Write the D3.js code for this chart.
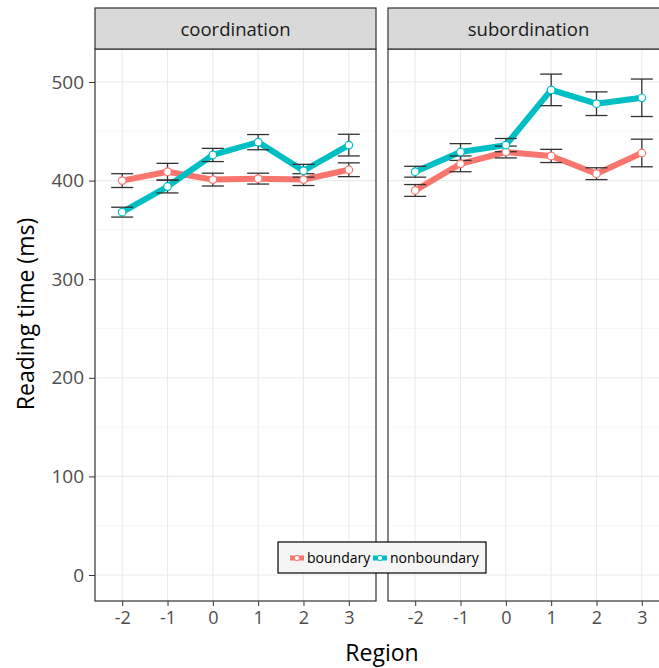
<!DOCTYPE html>
<html>
<head>
<meta charset="utf-8">
<script src="https://cdn.jsdelivr.net/npm/d3@7"></script>
<style>
body { margin: 0; background: #fff; }
text { font-family: "Open Sans", "Noto Sans", sans-serif; }
</style>
</head>
<body>
<script>
// data
var panels = ["coordination", "subordination"];
var regions = [-2, -1, 0, 1, 2, 3];
var groups = ["boundary", "nonboundary"];
var colors = ["#F8766D", "#00BFC4"];

var coordBoundary = [400, 409, 401, 402, 401, 411];
var coordBoundaryErr = [7, 8.5, 6.5, 5.5, 6, 7];
var coordNonboundary = [368, 394, 426, 439, 410, 436];
var coordNonboundaryErr = [5, 6.5, 6.7, 7.7, 6.5, 11];

var subBoundary = [390, 417, 429, 425, 407, 428];
var subBoundaryErr = [6, 8, 6, 6.7, 6, 14];
var subNonboundary = [409, 429, 436, 492, 478, 484];
var subNonboundaryErr = [5.5, 8.5, 6.7, 16, 12, 19];

var yTicks = [0, 100, 200, 300, 400, 500];
var yMinor = [50, 150, 250, 350, 450];

var series = [
  [coordBoundary, coordBoundaryErr, coordNonboundary, coordNonboundaryErr],
  [subBoundary, subBoundaryErr, subNonboundary, subNonboundaryErr]
];

var W = 659, H = 668;
var svg = d3.select("body").append("svg").attr("width", W).attr("height", H);

var panelX = [95, 388], panelW = 281;
var stripTop = 8, panelTop = 49, panelBot = 601;

var y = d3.scaleLinear().domain([0, 500]).range([575, 82]);
var fmt = function(d) { return String(d); }; // plain hyphen like the original

panels.forEach(function(name, p) {
  var x0 = panelX[p];
  var x = d3.scaleLinear().domain([-2.6, 3.6]).range([x0, x0 + panelW]);
  var g = svg.append("g");

  // panel bg
  g.append("rect").attr("x", x0).attr("y", panelTop).attr("width", panelW)
    .attr("height", panelBot - panelTop).attr("fill", "#fff");

  // grid
  g.selectAll(".ymin").data(yMinor).enter().append("line")
    .attr("x1", x0).attr("x2", x0 + panelW)
    .attr("y1", function(d) { return y(d); }).attr("y2", function(d) { return y(d); })
    .attr("stroke", "#f2f2f2").attr("stroke-width", 0.6);
  g.selectAll(".ymaj").data(yTicks).enter().append("line")
    .attr("x1", x0).attr("x2", x0 + panelW)
    .attr("y1", function(d) { return y(d); }).attr("y2", function(d) { return y(d); })
    .attr("stroke", "#ebebeb").attr("stroke-width", 1.1);
  g.selectAll(".xmaj").data(regions).enter().append("line")
    .attr("x1", function(d) { return x(d); }).attr("x2", function(d) { return x(d); })
    .attr("y1", panelTop).attr("y2", panelBot)
    .attr("stroke", "#ebebeb").attr("stroke-width", 1.1);

  var s = series[p];
  var line = d3.line().x(function(d, i) { return x(regions[i]); }).y(function(d) { return y(d); });

  groups.forEach(function(grp, k) {
    g.append("path").datum(s[k * 2]).attr("d", line)
      .attr("fill", "none").attr("stroke", colors[k]).attr("stroke-width", 6)
      .attr("stroke-linejoin", "round");
  });

  groups.forEach(function(grp, k) {
    var vals = s[k * 2], errs = s[k * 2 + 1];
    var eb = g.append("g").attr("stroke", "#333").attr("stroke-width", 1.3);
    vals.forEach(function(v, i) {
      var cx = x(regions[i]);
      eb.append("line").attr("x1", cx).attr("x2", cx)
        .attr("y1", y(v - errs[i])).attr("y2", y(v + errs[i]));
      [v - errs[i], v + errs[i]].forEach(function(e) {
        eb.append("line").attr("x1", cx - 11).attr("x2", cx + 11)
          .attr("y1", y(e)).attr("y2", y(e));
      });
    });
  });

  groups.forEach(function(grp, k) {
    g.selectAll(".pt" + k).data(s[k * 2]).enter().append("circle")
      .attr("cx", function(d, i) { return x(regions[i]); })
      .attr("cy", function(d) { return y(d); })
      .attr("r", 3.8).attr("fill", "#fff").attr("stroke", colors[k]).attr("stroke-width", 1.2);
  });

  // border
  g.append("rect").attr("x", x0).attr("y", panelTop).attr("width", panelW)
    .attr("height", panelBot - panelTop).attr("fill", "none").attr("stroke", "#333").attr("stroke-width", 1.2);

  // strip
  g.append("rect").attr("x", x0).attr("y", stripTop).attr("width", panelW)
    .attr("height", panelTop - stripTop).attr("fill", "#d9d9d9").attr("stroke", "#333").attr("stroke-width", 1.2);
  g.append("text").attr("x", x0 + panelW / 2).attr("y", 35.5).attr("text-anchor", "middle")
    .attr("font-size", 18.5).attr("fill", "#1a1a1a").text(name);

  // x axis
  var xa = g.append("g").attr("transform", "translate(0," + panelBot + ")")
    .call(d3.axisBottom(x).tickValues(regions).tickSize(5).tickPadding(5).tickFormat(fmt));
  xa.select(".domain").remove();
  xa.selectAll("line").attr("stroke", "#333");
  xa.selectAll("text").attr("font-size", 18).attr("fill", "#4d4d4d")
    .style("font-family", "'Open Sans', sans-serif");
});

// y axis
var ya = svg.append("g").attr("transform", "translate(" + panelX[0] + ",0)")
  .call(d3.axisLeft(y).tickValues(yTicks).tickSize(6).tickPadding(5).tickFormat(fmt));
ya.select(".domain").remove();
ya.selectAll("line").attr("stroke", "#333");
ya.selectAll("text").attr("font-size", 19).attr("fill", "#4d4d4d")
  .style("font-family", "'Open Sans', sans-serif");

// axis titles
svg.append("text").attr("x", 382).attr("y", 661).attr("text-anchor", "middle")
  .attr("font-size", 23).attr("fill", "#000").text("Region");
svg.append("text").attr("transform", "translate(34,314) rotate(-90)").attr("text-anchor", "middle")
  .attr("font-size", 23).attr("fill", "#000").text("Reading time (ms)");

// legend
var lg = svg.append("g").attr("transform", "translate(278,542)");
lg.append("rect").attr("width", 208).attr("height", 31).attr("fill", "#f5f5f5")
  .attr("stroke", "#000").attr("stroke-width", 1.2);
var lx = [12, 95];
groups.forEach(function(grp, k) {
  var it = lg.append("g").attr("transform", "translate(" + lx[k] + ",16)");
  it.append("line").attr("x1", 0).attr("x2", 14).attr("stroke", colors[k]).attr("stroke-width", 5);
  it.append("circle").attr("cx", 7).attr("r", 2.6).attr("fill", "#fff").attr("stroke", colors[k]).attr("stroke-width", 1);
  it.append("text").attr("x", 17).attr("y", 5).attr("font-size", 14).attr("fill", "#000").text(grp);
});
</script>
</body>
</html>
